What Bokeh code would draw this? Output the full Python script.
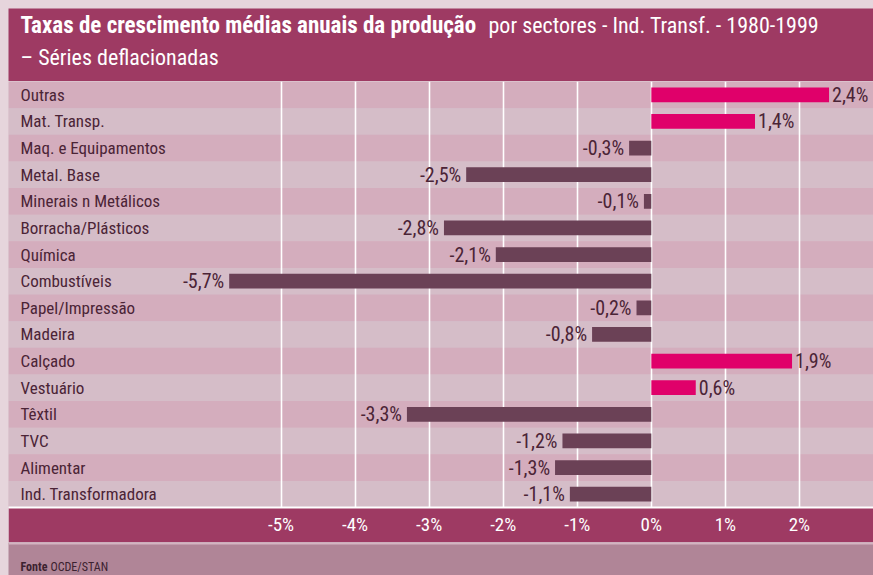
from bokeh.plotting import figure
from bokeh.layouts import column
from bokeh.models import (ColumnDataSource, Range1d, FactorRange, FixedTicker,
                          PrintfTickFormatter, Label, Span)
from bokeh.core.properties import value
from bokeh.embed import file_html
from bokeh.resources import INLINE

# ---------------- data ----------------
sectors = ["Outras", "Mat. Transp.", "Maq. e Equipamentos", "Metal. Base",
           "Minerais n Metálicos", "Borracha/Plásticos", "Química", "Combustíveis",
           "Papel/Impressão", "Madeira", "Calçado", "Vestuário", "Têxtil", "TVC",
           "Alimentar", "Ind. Transformadora"]
growth = [2.4, 1.4, -0.3, -2.5, -0.1, -2.8, -2.1, -5.7, -0.2, -0.8, 1.9, 0.6,
          -3.3, -1.2, -1.3, -1.1]
x_ticks = [-5, -4, -3, -2, -1, 0, 1, 2]
title_bold = "Taxas de crescimento médias anuais da produção"
title_rest = "por sectores - Ind. Transf. - 1980-1999"
subtitle = "– Séries deflacionadas"
source_bold = "Fonte"
source_rest = "OCDE/STAN"

# ---------------- style ----------------
FONT = "'Roboto Condensed', 'DejaVu Sans Condensed', Roboto"
BAND = "#9e3a63"
PAGE = "#e6d5dc"
ROW_DARK = "#d4adbd"
ROW_LIGHT = "#d5bdc8"
POS = "#e0006a"
NEG = "#6b4156"
TXT = "#4b2436"
FOOT = "#b08597"
W = 865
X0, X1 = -8.68, 3.0

# ---------------- title figure ----------------
t = figure(width=W, height=73, x_range=(0, W), y_range=(0, 73),
           toolbar_location=None, output_backend="svg", min_border=0)
t.axis.visible = False
t.grid.visible = False
t.outline_line_color = None
t.background_fill_color = BAND
t.border_fill_color = BAND
t.add_layout(Label(x=12, y=56, x_units="screen", y_units="screen", text=title_bold,
                   text_font=FONT, text_font_size="23px", text_font_style="bold",
                   text_color="white", text_baseline="middle"))
t.add_layout(Label(x=480, y=56, x_units="screen", y_units="screen", text=title_rest,
                   text_font=FONT, text_font_size="22px",
                   text_color="white", text_baseline="middle"))
t.add_layout(Label(x=12, y=24, x_units="screen", y_units="screen", text=subtitle,
                   text_font=FONT, text_font_size="22px",
                   text_color="white", text_baseline="middle"))

# ---------------- main chart ----------------
cats = list(reversed(sectors))
p = figure(width=W, height=461, y_range=FactorRange(*cats, range_padding=0),
           x_range=Range1d(X0, X1), toolbar_location=None, output_backend="svg",
           min_border_left=0, min_border_right=0, min_border_top=0,
           min_border_bottom=35)
p.background_fill_color = ROW_LIGHT
p.border_fill_color = BAND
p.outline_line_color = None

rows = ColumnDataSource(dict(
    y=sectors,
    color=[ROW_DARK if i % 2 == 0 else ROW_LIGHT for i in range(len(sectors))]))
bands = p.hbar(y="y", left=X0, right=X1, height=1.0, fill_color="color",
               line_color=None, source=rows)
bands.level = "image"

bar_src = ColumnDataSource(dict(
    y=sectors, v=growth,
    color=[POS if v > 0 else NEG for v in growth]))
p.hbar(y="y", left=0, right="v", height=0.55, fill_color="color",
       line_color=None, source=bar_src)

def fmt(v):
    return f"{v:.1f}".replace(".", ",") + "%"

pos_src = ColumnDataSource(dict(
    y=[s for s, v in zip(sectors, growth) if v > 0],
    v=[v for v in growth if v > 0],
    t=[fmt(v) for v in growth if v > 0]))
neg_src = ColumnDataSource(dict(
    y=[s for s, v in zip(sectors, growth) if v <= 0],
    v=[v for v in growth if v <= 0],
    t=[fmt(v) for v in growth if v <= 0]))
p.text(x="v", y="y", text="t", source=pos_src, x_offset=3, text_align="left",
       text_baseline="middle", text_font=value(FONT), text_font_size="20px",
       text_color=TXT)
p.text(x="v", y="y", text="t", source=neg_src, x_offset=-5, text_align="right",
       text_baseline="middle", text_font=value(FONT), text_font_size="20px",
       text_color=TXT)

lab_src = ColumnDataSource(dict(y=sectors, x=[X0] * len(sectors), t=sectors))
p.text(x="x", y="y", text="t", source=lab_src, x_offset=12, text_align="left",
       text_baseline="middle", text_font=value(FONT), text_font_size="17px",
       text_color=TXT)

p.yaxis.visible = False
p.ygrid.visible = False
p.xgrid.ticker = FixedTicker(ticks=x_ticks)
p.xgrid.grid_line_color = "white"
p.xgrid.grid_line_width = 1.6
p.xaxis.ticker = FixedTicker(ticks=x_ticks)
p.xaxis.formatter = PrintfTickFormatter(format="%d%%")
p.xaxis.axis_line_color = "white"
p.xaxis.axis_line_width = 2
p.xaxis.major_tick_line_color = None
p.xaxis.minor_tick_line_color = None
p.xaxis.major_label_text_color = "white"
p.xaxis.major_label_text_font = FONT
p.xaxis.major_label_text_font_size = "19px"
p.xaxis.major_label_standoff = -1

# ---------------- footer ----------------
f = figure(width=W, height=33, x_range=(0, W), y_range=(0, 33),
           toolbar_location=None, output_backend="svg", min_border=0)
f.axis.visible = False
f.grid.visible = False
f.outline_line_color = None
f.background_fill_color = FOOT
f.border_fill_color = FOOT
f.add_layout(Span(location=32, dimension="width", line_color="#d3b4c1", line_width=2))
f.add_layout(Label(x=12, y=9, x_units="screen", y_units="screen", text=source_bold,
                   text_font=FONT, text_font_size="12px", text_font_style="bold",
                   text_color="#3c2230", text_baseline="middle"))
f.add_layout(Label(x=42, y=9, x_units="screen", y_units="screen", text=source_rest,
                   text_font=FONT, text_font_size="12px",
                   text_color="#3c2230", text_baseline="middle"))

layout = column(t, p, f, spacing=0)
html = file_html(layout, INLINE)
html = html.replace(
    "<head>",
    "<head><style>html{margin:0;padding:0;background:%s;overflow:hidden}"
    "body{margin:8px 0 0 8px !important;padding:0;background:%s;overflow:visible}</style>"
    % (PAGE, PAGE), 1)
open("out.html", "w").write(html)
